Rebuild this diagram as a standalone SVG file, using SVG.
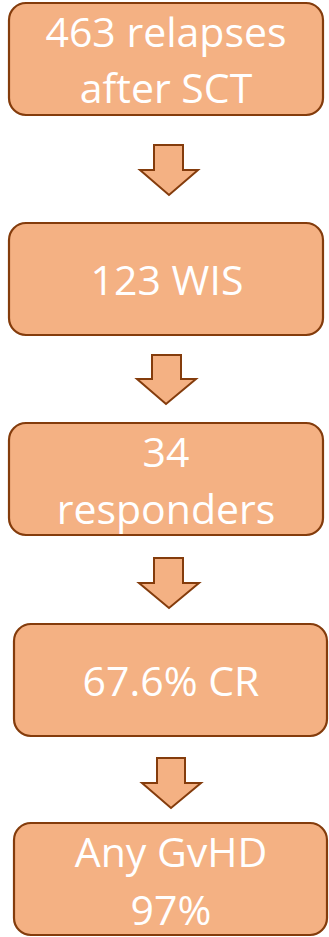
<svg xmlns="http://www.w3.org/2000/svg" width="329" height="937" viewBox="0 0 329 937">
<style>
.box{fill:#F4B183;stroke:#843C0C;stroke-width:2.2}
.arr{fill:#F4B183;stroke:#843C0C;stroke-width:2;stroke-linejoin:miter}
.t{font-family:"Open Sans","Noto Sans",sans-serif;font-size:41px;fill:#FFFFFF;text-anchor:middle}
</style>
<rect width="329" height="937" fill="#FFFFFF"/>
<g id="connectors">
<path class="arr" d="M154,145 H183 V170 H198 L169,195 L140,170 H154 Z"/>
<path class="arr" d="M152,355 H181 V379 H196 L166,404 L137,379 H152 Z"/>
<path class="arr" d="M154,558 H183 V583 H199 L169,608 L139,583 H154 Z"/>
<path class="arr" d="M157,758 H185 V783 H201 L171,808 L142,783 H157 Z"/>
</g>
<g id="n1">
<rect class="box" x="9" y="3" width="314" height="112" rx="17"/>
<text class="t" x="166" y="47">463 relapses</text>
<text class="t" x="166" y="103">after SCT</text>
</g>
<g id="n2">
<rect class="box" x="9" y="223" width="314" height="112" rx="17"/>
<text class="t" x="167" y="295">123 WIS</text>
</g>
<g id="n3">
<rect class="box" x="9" y="423" width="314" height="112" rx="17"/>
<text class="t" x="166" y="467">34</text>
<text class="t" x="166" y="524">responders</text>
</g>
<g id="n4">
<rect class="box" x="14" y="624" width="313" height="112" rx="17"/>
<text class="t" x="171" y="696">67.6% CR</text>
</g>
<g id="n5">
<rect class="box" x="14" y="823" width="313" height="112" rx="17"/>
<text class="t" x="171" y="867">Any GvHD</text>
<text class="t" x="171" y="925">97%</text>
</g>
</svg>
